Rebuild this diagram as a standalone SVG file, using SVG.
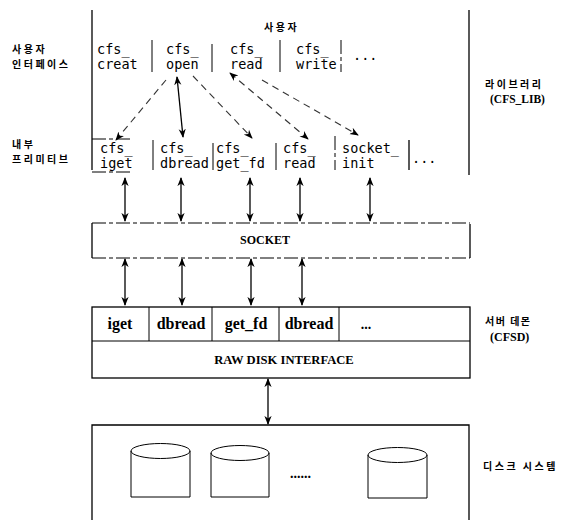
<svg xmlns="http://www.w3.org/2000/svg" width="581" height="520" viewBox="0 0 581 520">
<defs>
<marker id="ah" viewBox="0 0 10 10" refX="9" refY="5" markerWidth="9" markerHeight="9" markerUnits="userSpaceOnUse" orient="auto-start-reverse">
<path d="M0,1 L10,5 L0,9 L3,5 Z" fill="#000"/>
</marker>
</defs>
<style>
.ln{stroke:#000;stroke-width:1.3;fill:none}
.thin{stroke:#000;stroke-width:1;fill:none}
.dsh{stroke:#000;stroke-width:1;fill:none;stroke-dasharray:14 3 4 3}
.arr{stroke:#000;stroke-width:1.3;fill:none;marker-start:url(#ah);marker-end:url(#ah)}
.arr1{stroke:#333;stroke-width:1.1;fill:none;stroke-dasharray:7 5;marker-end:url(#ah)}
.arr2{stroke:#333;stroke-width:1.1;fill:none;stroke-dasharray:7 5;marker-start:url(#ah);marker-end:url(#ah)}
.mono{font-family:"DejaVu Sans Mono","Liberation Mono",monospace;font-size:13.5px;fill:#000}
.kr{font-family:"Noto Sans CJK KR","Noto Sans",sans-serif;font-size:10px;font-weight:bold;fill:#000;letter-spacing:2.5px}
.sb{font-family:"Liberation Serif",serif;font-weight:bold;fill:#000}
</style>
<rect width="581" height="520" fill="#fff"/>

<g id="library">
<line class="ln" x1="92" y1="10" x2="92" y2="170"/>
<line class="ln" x1="469" y1="10" x2="469" y2="175"/>
<text class="kr" x="264" y="31">사용자</text>
</g>

<g id="user-interface">
<text class="kr" x="12" y="53">사용자</text>
<text class="kr" x="12" y="68">인터페이스</text>
<line class="thin" x1="152" y1="40" x2="152" y2="72"/>
<line class="thin" x1="212" y1="44" x2="212" y2="72"/>
<line class="thin" x1="280" y1="40" x2="280" y2="72"/>
<line class="dsh" x1="341" y1="40" x2="341" y2="72"/>
<text class="mono" x="97" y="54">cfs_</text><text class="mono" x="97" y="69">creat</text>
<text class="mono" x="166" y="54">cfs_</text><text class="mono" x="166" y="69">open</text>
<text class="mono" x="230" y="54">cfs_</text><text class="mono" x="230" y="69">read</text>
<text class="mono" x="296" y="54">cfs_</text><text class="mono" x="296" y="69">write</text>
<text class="mono" x="353" y="60">...</text>
</g>

<g id="library-label">
<text class="kr" x="485" y="88">라이브러리</text>
<text class="sb" x="490" y="103" font-size="11.5">(CFS_LIB)</text>
</g>

<g id="internal-primitives">
<text class="kr" x="12" y="148">내부</text>
<text class="kr" x="12" y="163">프리미티브</text>
<line class="dsh" x1="92" y1="139" x2="130" y2="139"/>
<line class="dsh" x1="92" y1="172" x2="130" y2="172"/>
<line class="thin" x1="153" y1="140" x2="153" y2="170"/>
<line class="thin" x1="213" y1="143" x2="213" y2="170"/>
<line class="thin" x1="276" y1="143" x2="276" y2="170"/>
<line class="dsh" x1="335" y1="136" x2="335" y2="170"/>
<line class="ln" x1="409" y1="140" x2="409" y2="170"/>
<text class="mono" x="100" y="153">cfs_</text><text class="mono" x="100" y="168">iget</text>
<text class="mono" x="160" y="153">cfs_</text><text class="mono" x="160" y="168">dbread</text>
<text class="mono" x="216" y="153">cfs_</text><text class="mono" x="216" y="168">get_fd</text>
<text class="mono" x="283" y="153">cfs_</text><text class="mono" x="283" y="168">read</text>
<text class="mono" x="342" y="153">socket_</text><text class="mono" x="342" y="168">init</text>
<text class="mono" x="412" y="163">...</text>
</g>

<g id="socket">
<line class="ln" x1="92" y1="223" x2="92" y2="258"/>
<line class="ln" x1="470" y1="224" x2="470" y2="258"/>
<line class="dsh" x1="92" y1="223" x2="470" y2="223"/>
<line class="dsh" x1="92" y1="258" x2="470" y2="258"/>
<text class="sb" x="265" y="244" font-size="12" text-anchor="middle">SOCKET</text>
</g>

<g id="server-daemon">
<rect class="ln" x="92" y="307" width="378" height="71"/>
<line class="thin" x1="92" y1="341" x2="470" y2="341"/>
<line class="thin" x1="149" y1="307" x2="149" y2="341"/>
<line class="thin" x1="212" y1="307" x2="212" y2="341"/>
<line class="thin" x1="279" y1="307" x2="279" y2="341"/>
<line class="thin" x1="339" y1="307" x2="339" y2="341"/>
<text class="sb" x="120" y="329" font-size="16" text-anchor="middle">iget</text>
<text class="sb" x="181" y="329" font-size="16" text-anchor="middle">dbread</text>
<text class="sb" x="246" y="329" font-size="16" text-anchor="middle">get_fd</text>
<text class="sb" x="309" y="329" font-size="16" text-anchor="middle">dbread</text>
<text class="sb" x="366" y="329" font-size="14" text-anchor="middle">...</text>
<text class="sb" x="284" y="364" font-size="12.6" text-anchor="middle">RAW DISK INTERFACE</text>
</g>

<g id="server-label">
<text class="kr" x="485" y="325" style="letter-spacing:1.5px">서버 데몬</text>
<text class="sb" x="490" y="341" font-size="12">(CFSD)</text>
</g>

<g id="disk-system">
<path class="ln" d="M92,525 V425 H469 V525"/>
<path class="thin" d="M131,451 V497 H190 V451"/>
<ellipse class="thin" cx="160.5" cy="451" rx="29.5" ry="7.5" fill="#fff"/>
<path class="thin" d="M211,453 V497 H269 V453"/>
<ellipse class="thin" cx="240" cy="453" rx="29" ry="7.5" fill="#fff"/>
<path class="thin" d="M368,455 V498 H427 V455"/>
<ellipse class="thin" cx="397.5" cy="455" rx="29.5" ry="7.5" fill="#fff"/>
<text class="sb" x="290" y="478" font-size="14">......</text>
<text class="kr" x="483" y="470">디스크 시스템</text>
</g>

<g id="connectors">
<line class="arr" x1="177" y1="77" x2="183" y2="137"/>
<line class="arr1" x1="166" y1="80" x2="116" y2="140"/>
<line class="arr1" x1="193" y1="76" x2="252" y2="138"/>
<line class="arr2" x1="230" y1="73" x2="308" y2="139"/>
<line class="arr1" x1="262" y1="80" x2="358" y2="135"/>
<line class="arr" x1="125" y1="178" x2="125" y2="221"/>
<line class="arr" x1="181" y1="178" x2="181" y2="221"/>
<line class="arr" x1="250" y1="178" x2="250" y2="221"/>
<line class="arr" x1="300" y1="178" x2="300" y2="221"/>
<line class="arr" x1="370" y1="178" x2="370" y2="221"/>
<line class="arr" x1="125" y1="259" x2="125" y2="305"/>
<line class="arr" x1="182" y1="259" x2="182" y2="305"/>
<line class="arr" x1="251" y1="259" x2="251" y2="305"/>
<line class="arr" x1="302" y1="259" x2="302" y2="305"/>
<line class="arr" x1="268" y1="379" x2="268" y2="424"/>
</g>
</svg>
